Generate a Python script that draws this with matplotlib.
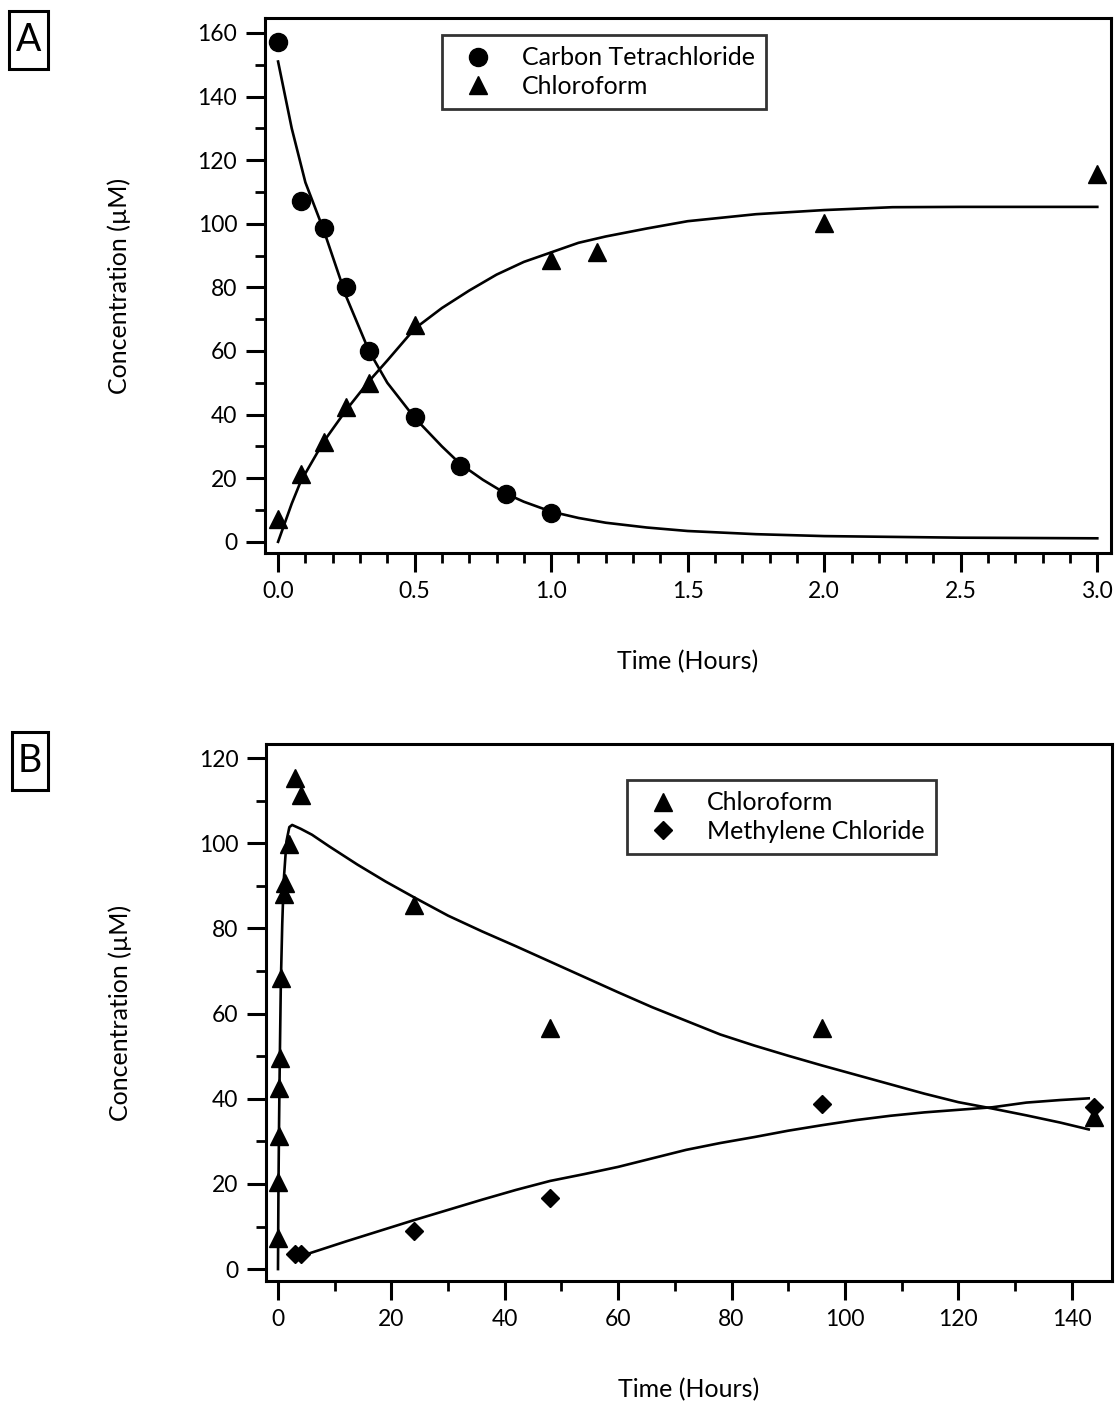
import matplotlib
matplotlib.use("Agg")
import matplotlib.pyplot as plt
from matplotlib.lines import Line2D
from matplotlib.patches import Rectangle
from matplotlib.ticker import MultipleLocator

plt.rcParams["font.family"] = ["Lato", "DejaVu Sans"]

# Panel A: first 3 hours
ct_t = [0.0, 0.083, 0.167, 0.25, 0.333, 0.5, 0.667, 0.833, 1.0]
ct_conc = [157, 107.2, 98.7, 80.2, 60, 39.3, 23.9, 15.1, 9.1]

cf_t_a = [0.0, 0.083, 0.167, 0.25, 0.333, 0.5, 1.0, 1.167, 2.0, 3.0]
cf_conc_a = [7.3, 21.2, 31.5, 42.5, 50, 68.2, 88.7, 91.2, 100.3, 115.7]

ct_fit_t = [0, 0.05, 0.1, 0.167, 0.25, 0.333, 0.4, 0.5, 0.6, 0.667, 0.75, 0.833,
            0.9, 1.0, 1.1, 1.2, 1.35, 1.5, 1.75, 2.0, 2.5, 3.0]
ct_fit = [151, 130, 113, 98, 77, 60, 50, 39, 30, 24.5, 19.5, 15.2,
          12.6, 9.5, 7.5, 6.0, 4.5, 3.4, 2.4, 1.8, 1.3, 1.1]

cf_fit_t_a = [0, 0.05, 0.083, 0.167, 0.25, 0.333, 0.4, 0.5, 0.6, 0.7, 0.8, 0.9,
              1.0, 1.1, 1.2, 1.35, 1.5, 1.75, 2.0, 2.25, 2.5, 3.0]
cf_fit_a = [0, 12, 19, 31.5, 41.5, 50.5, 57, 67, 73.5, 79, 84, 88,
            91, 94, 96, 98.5, 100.8, 103, 104.3, 105.2, 105.3, 105.3]

# Panel B: full 144 h run
cf_t_b = [0.0, 0.083, 0.167, 0.25, 0.333, 0.5, 1.0, 1.167, 2.0, 3.0, 4.0,
          24, 48, 96, 144]
cf_conc_b = [7.3, 20.5, 31.2, 42.5, 49.5, 68.4, 88, 90.6, 99.9, 115.4, 111.3,
             85.4, 56.6, 56.6, 35.8]

mc_t = [3.0, 4.0, 24, 48, 96, 144]
mc_conc = [3.6, 3.6, 8.9, 16.6, 38.7, 38.0]

cf_fit_t_b = [0, 0.083, 0.167, 0.25, 0.333, 0.5, 0.75, 1.0, 1.5, 2.0, 2.5, 4, 6,
              9, 14, 19, 24, 30, 36, 42, 48, 54, 60, 66, 72, 78, 84, 90, 96,
              102, 108, 114, 120, 126, 132, 138, 143]
cf_fit_b = [0, 19, 31.5, 41.5, 50.5, 67, 81, 91, 100.5, 103.8, 104.3, 103.4, 102,
            99.3, 95, 91, 87.3, 83, 79.3, 75.8, 72.2, 68.6, 65, 61.5, 58.3, 55.1,
            52.5, 50.1, 47.8, 45.6, 43.4, 41.2, 39.2, 37.7, 36.1, 34.4, 32.8]

mc_fit_t = [3, 6, 12, 18, 24, 30, 36, 42, 48, 54, 60, 66, 72, 78, 84, 90, 96,
            102, 108, 114, 120, 126, 132, 138, 143]
mc_fit = [2.6, 3.9, 6.5, 9.0, 11.5, 13.9, 16.3, 18.6, 20.7, 22.3, 24.0, 26.0,
          28.0, 29.6, 31.0, 32.5, 33.8, 35.0, 36.0, 36.8, 37.4, 38.0, 39.1,
          39.7, 40.1]

LW = 1.9
TICK_FS = 16.5
LABEL_FS = 18
W, H = 1118, 1402


def style_axes(ax, xmajor, xminor, ymajor, yminor):
    for s in ax.spines.values():
        s.set_linewidth(2.2)
    ax.xaxis.set_major_locator(MultipleLocator(xmajor))
    ax.xaxis.set_minor_locator(MultipleLocator(xminor))
    ax.yaxis.set_major_locator(MultipleLocator(ymajor))
    ax.yaxis.set_minor_locator(MultipleLocator(yminor))
    ax.tick_params(which="major", direction="out", length=14, width=2.2,
                   labelsize=TICK_FS, pad=6)
    ax.tick_params(which="minor", direction="out", length=7, width=2.0)
    ax.set_ylabel("Concentration (µM)", fontsize=LABEL_FS, labelpad=48)
    ax.set_xlabel("Time (Hours)", fontsize=LABEL_FS, labelpad=35)


def legend_box(ax, handles, labels, anchor):
    leg = ax.legend(handles, labels, loc="upper left", bbox_to_anchor=anchor,
                    bbox_transform=ax.figure.transFigure, fontsize=18,
                    fancybox=False, frameon=True, handletextpad=0.75,
                    borderpad=0.45, labelspacing=0.22, handlelength=2.0,
                    borderaxespad=0)
    leg.get_frame().set_edgecolor("black")
    leg.get_frame().set_linewidth(2.0)


def panel_letter(fig, x0, y0, x1, y1, letter):
    fig.add_artist(Rectangle((x0 / W, 1 - y1 / H), (x1 - x0) / W, (y1 - y0) / H,
                             transform=fig.transFigure, fill=False,
                             edgecolor="black", linewidth=2.2))
    fig.text((x0 + x1) / 2 / W, 1 - (y0 + y1) / 2 / H, letter, fontsize=27,
             ha="center", va="center")


fig = plt.figure(figsize=(W / 100, H / 100), dpi=100)

# Panel A
ax1 = fig.add_axes([0.237, 0.6056, 0.7567, 0.3816])
ax1.plot(ct_fit_t, ct_fit, color="black", lw=LW)
ax1.plot(cf_fit_t_a, cf_fit_a, color="black", lw=LW)
ax1.plot(ct_t, ct_conc, "o", color="black", ms=13, clip_on=False)
ax1.plot(cf_t_a, cf_conc_a, "^", color="black", ms=12.5, clip_on=False)
ax1.set_xlim(-0.048, 3.05)
ax1.set_ylim(-3.5, 164.7)
style_axes(ax1, 0.5, 0.1, 20, 10)
ax1.xaxis.set_major_formatter(plt.FuncFormatter(lambda v, p: f"{v:.1f}"))
legend_box(ax1,
           [Line2D([], [], ls="none", marker="o", color="black", ms=13),
            Line2D([], [], ls="none", marker="^", color="black", ms=12.5)],
           ["Carbon Tetrachloride", "Chloroform"],
           (442 / W, 1 - 35 / H))
panel_letter(fig, 9, 11, 48, 69, "A")

# Panel B
ax2 = fig.add_axes([0.238, 0.0863, 0.7566, 0.383])
ax2.plot(cf_fit_t_b, cf_fit_b, color="black", lw=LW)
ax2.plot(mc_fit_t, mc_fit, color="black", lw=LW)
ax2.plot(cf_t_b, cf_conc_b, "^", color="black", ms=12.5, clip_on=False)
ax2.plot(mc_t, mc_conc, "D", color="black", ms=9, clip_on=False)
ax2.set_xlim(-2.1, 147.1)
ax2.set_ylim(-2.8, 123.3)
style_axes(ax2, 20, 10, 20, 10)
legend_box(ax2,
           [Line2D([], [], ls="none", marker="^", color="black", ms=12.5),
            Line2D([], [], ls="none", marker="D", color="black", ms=9)],
           ["Chloroform", "Methylene Chloride"],
           (627 / W, 1 - 780 / H))
panel_letter(fig, 12, 732, 48, 790, "B")

fig.savefig("out.png", dpi=100)
